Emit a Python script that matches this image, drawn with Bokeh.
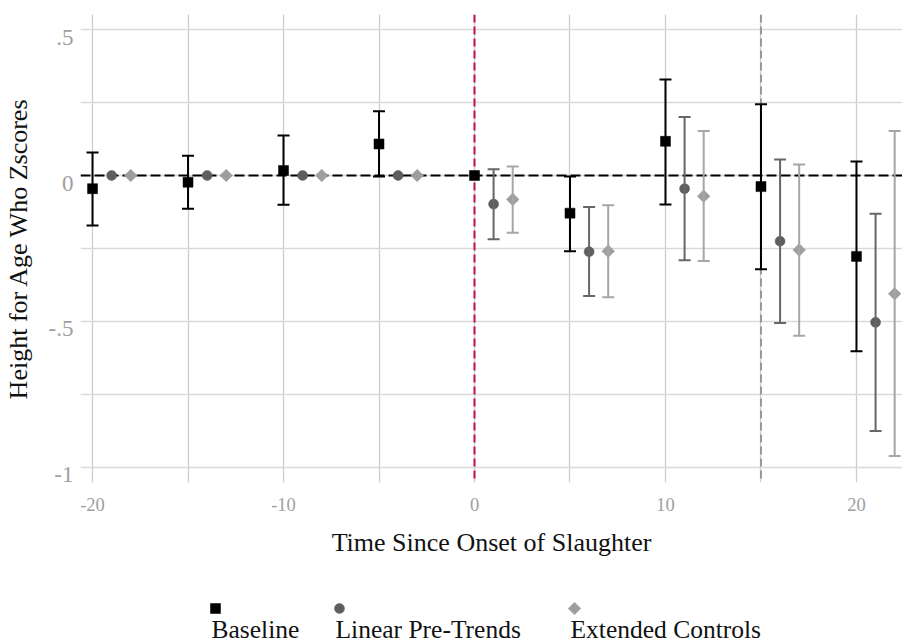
import math
from bokeh.plotting import figure
from bokeh.models import (ColumnDataSource, Whisker, TeeHead, Span, FixedTicker,
                          Range1d, LinearAxis)
from bokeh.layouts import column
from bokeh.core.properties import value
from bokeh.embed import file_html
from bokeh.resources import INLINE

nan = float("nan")

# ---- data ----
event_time = [-20, -15, -10, -5, 0, 5, 10, 15, 20]

baseline_est = [-0.045, -0.023, 0.017, 0.108, 0.000, -0.129, 0.117, -0.038, -0.277]
baseline_lo = [-0.171, -0.114, -0.100, -0.003, nan, -0.259, -0.099, -0.321, -0.602]
baseline_hi = [0.079, 0.068, 0.137, 0.220, nan, -0.003, 0.329, 0.244, 0.048]

linear_est = [0.0, 0.0, 0.0, 0.0, -0.098, -0.261, -0.045, -0.225, -0.503]
linear_lo = [nan, nan, nan, nan, -0.218, -0.413, -0.290, -0.505, -0.875]
linear_hi = [nan, nan, nan, nan, 0.021, -0.108, 0.200, 0.055, -0.131]

extended_est = [0.0, 0.0, 0.0, 0.0, -0.082, -0.259, -0.071, -0.255, -0.405]
extended_lo = [nan, nan, nan, nan, -0.196, -0.417, -0.293, -0.549, -0.961]
extended_hi = [nan, nan, nan, nan, 0.031, -0.102, 0.152, 0.038, 0.152]

series_names = ["Baseline", "Linear Pre-Trends", "Extended Controls"]
x_ticks = [-20, -10, 0, 10, 20]
x_tick_labels = {-20: "-20", -10: "-10", 0: "0", 10: "10", 20: "20"}
y_ticks = [-1, -0.5, 0, 0.5]
y_tick_labels = {-1: "-1", -0.5: "-.5", 0: "0", 0.5: ".5"}

FONT = "Liberation Serif"
X0, X1 = -20.63, 22.41
Y0, Y1 = -1.0514, 0.5514
FRAME_H = 468

p = figure(width=902, height=570, output_backend="svg", toolbar_location=None,
           x_range=Range1d(X0, X1), y_range=Range1d(Y0, Y1),
           min_border_left=80, min_border_right=0, min_border_top=14,
           min_border_bottom=88)
p.outline_line_color = None
p.background_fill_color = "white"
p.border_fill_color = "white"

p.xaxis.ticker = FixedTicker(ticks=x_ticks, minor_ticks=[-15, -5, 5, 15])
p.xaxis.major_label_overrides = x_tick_labels
ygrid_ticker = FixedTicker(ticks=y_ticks, minor_ticks=[-0.75, -0.25, 0.25])
p.yaxis.ticker = ygrid_ticker
p.ygrid.ticker = ygrid_ticker
p.yaxis.visible = False

# label axis: same scale, shifted so labels hang just below their grid line
shift = 7.5 * (Y1 - Y0) / FRAME_H
p.extra_y_ranges = {"lab": Range1d(Y0 + shift, Y1 + shift)}
yax = LinearAxis(y_range_name="lab", ticker=FixedTicker(ticks=y_ticks, minor_ticks=[]),
                 major_label_overrides=y_tick_labels)
p.add_layout(yax, "left")

for ax in (p.xaxis[0], yax):
    ax.axis_line_color = None
    ax.major_tick_line_color = None
    ax.minor_tick_line_color = None
    ax.major_label_text_color = "#a0a0a0"
    ax.major_label_text_font = FONT
    ax.axis_label_text_font = FONT
    ax.axis_label_text_font_style = "normal"
    ax.axis_label_text_color = "#111111"
    ax.axis_label_text_font_size = "26px"

p.xaxis.major_label_text_font_size = "18.5px"
yax.major_label_text_font_size = "23px"
p.xaxis.major_label_standoff = 9
yax.major_label_standoff = 1
p.xaxis.axis_label = "Time Since Onset of Slaughter"
yax.axis_label = "Height for Age Who Zscores"
p.xaxis.axis_label_standoff = 14
yax.axis_label_standoff = 13

p.xgrid.grid_line_color = "#cccccc"
p.xgrid.grid_line_width = 1.3
p.xgrid.minor_grid_line_color = "#cccccc"
p.xgrid.minor_grid_line_width = 1.3
p.ygrid.grid_line_color = "#d9d9d9"
p.ygrid.grid_line_width = 1.3
p.ygrid.minor_grid_line_color = "#d9d9d9"
p.ygrid.minor_grid_line_width = 1.3

# reference lines
p.add_layout(Span(location=0, dimension="width", line_color="black",
                  line_dash="10 4", line_width=2, level="underlay"))
p.add_layout(Span(location=0, dimension="height", line_color="#C8103F",
                  line_dash="8 4", line_width=2, level="underlay"))
p.add_layout(Span(location=15, dimension="height", line_color="#999999",
                  line_dash="8 4", line_width=2, level="underlay"))

specs = [
    (baseline_est, baseline_lo, baseline_hi, 0, "black", "black", "square", 10, 0.0),
    (linear_est, linear_lo, linear_hi, 1, "#5e5e5e", "#666666", "circle", 10, 0.0),
    (extended_est, extended_lo, extended_hi, 2, "#9e9e9e", "#a6a6a6", "square", 9, math.pi / 4),
]

for est, lo, hi, off, mcol, lcol, marker, size, ang in specs:
    xs = [t + off for t in event_time]
    wx, wlo, whi = [], [], []
    for xv, l, h in zip(xs, lo, hi):
        if not (math.isnan(l) or math.isnan(h)):
            wx.append(xv); wlo.append(l); whi.append(h)
    wsrc = ColumnDataSource(dict(x=wx, lo=wlo, hi=whi))
    p.add_layout(Whisker(base="x", lower="lo", upper="hi", source=wsrc,
                         dimension="height", line_color=lcol, line_width=2,
                         upper_head=TeeHead(size=12, line_color=lcol, line_width=2),
                         lower_head=TeeHead(size=12, line_color=lcol, line_width=2),
                         level="glyph"))
    src = ColumnDataSource(dict(x=xs, y=est))
    p.scatter("x", "y", source=src, marker=marker, size=size, angle=ang,
              fill_color=mcol, line_color=mcol, line_width=0.5)

# legend strip (layout only); frame aligned with the main plot, so x = page pixels
lg = figure(width=902, height=74, output_backend="svg", toolbar_location=None,
            x_range=Range1d(80, 902), y_range=Range1d(74, 0),
            min_border_left=80, min_border_right=0, min_border_top=0,
            min_border_bottom=0)
lg.outline_line_color = None
lg.axis.visible = False
lg.grid.visible = False
key_x = [215, 339, 574]
text_x = [211, 335, 570]
markers = ["square", "circle", "square"]
mcols = ["black", "#5e5e5e", "#9e9e9e"]
sizes = [10, 10, 9]
angs = [0.0, 0.0, math.pi / 4]
for kx, tx, nm, mk, mc, sz, an in zip(key_x, text_x, series_names, markers, mcols, sizes, angs):
    lg.scatter([kx], [38], marker=mk, size=sz, angle=an, fill_color=mc,
               line_color=mc, line_width=0.5)
    lg.text([tx], [59], text=[nm], text_font=value(FONT), text_font_size="25.5px",
            text_color="#111111", text_align="left", text_baseline="middle")

layout = column(p, lg, spacing=0)
open("out.html", "w").write(file_html(layout, INLINE))
